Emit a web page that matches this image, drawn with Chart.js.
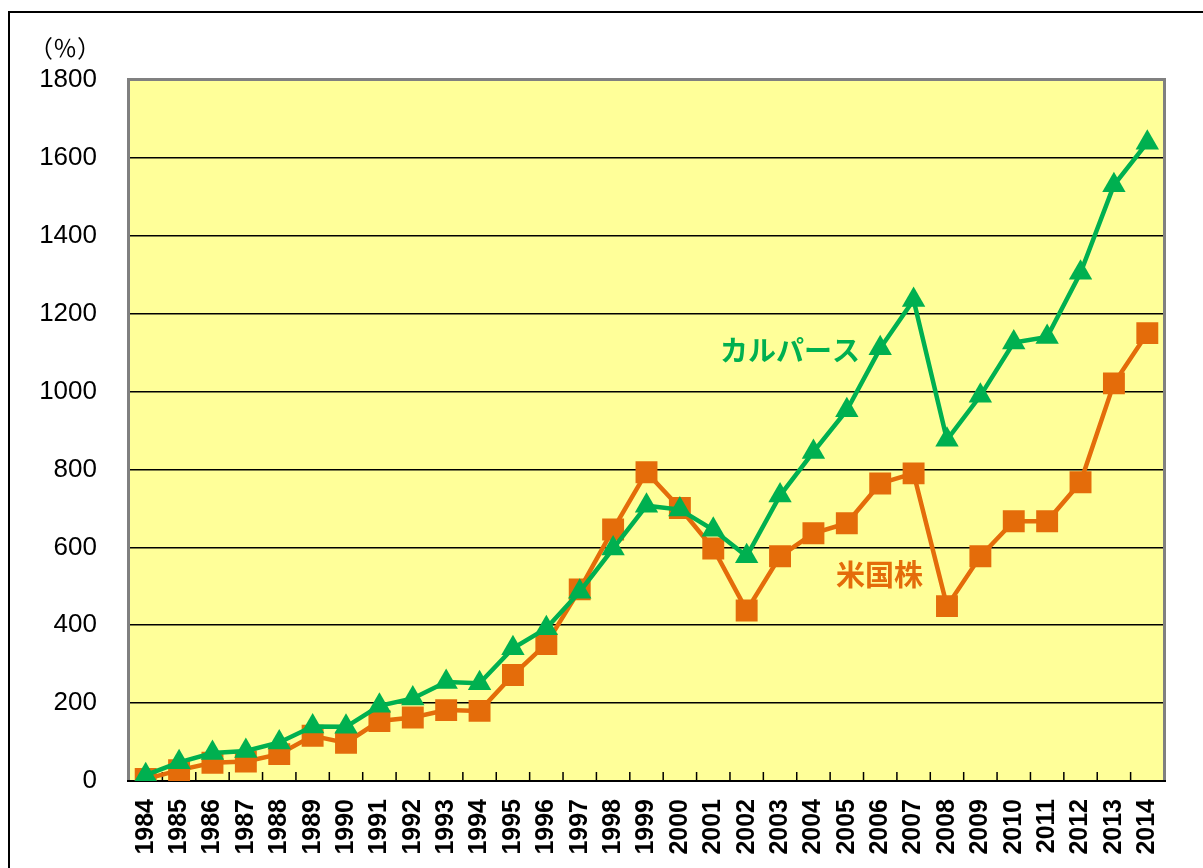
<!DOCTYPE html>
<html><head><meta charset="utf-8">
<script src="https://cdn.jsdelivr.net/npm/chart.js@4"></script>
<style>html,body{margin:0;padding:0;background:#fff;}canvas{display:block;}</style>
</head><body>
<canvas id="c" width="1203" height="868"></canvas>
<script>
const years = ['1984','1985','1986','1987','1988','1989','1990','1991','1992','1993','1994','1995','1996','1997','1998','1999','2000','2001','2002','2003','2004','2005','2006','2007','2008','2009','2010','2011','2012','2013','2014'];
const calpers = [15,48,72,77,99,140,139,193,212,254,251,341,392,486,597,707,697,645,577,733,845,952,1111,1235,876,989,1126,1140,1305,1530,1639];
const usStocks = [5,28,47,50,69,116,98,154,163,182,180,272,352,492,646,793,701,597,438,577,636,662,764,790,449,577,667,667,767,1021,1150];
const yTicks = {min:0, max:1800, step:200};
const seriesNames = ['カルパース','米国株'];
const GREEN = '#00B050', ORANGE = '#E46C0A';

const deco = {
  id:'deco',
  beforeDraw(chart){
    const {ctx, chartArea:a} = chart;
    ctx.save();
    ctx.fillStyle = '#FFFF99';
    ctx.fillRect(a.left, a.top, a.right-a.left, a.bottom-a.top);
    ctx.strokeStyle = '#000'; ctx.lineWidth = 2;
    ctx.beginPath(); ctx.moveTo(9, 868); ctx.lineTo(9, 12); ctx.lineTo(1203, 12); ctx.stroke();
    ctx.restore();
  },
  beforeDatasetsDraw(chart){
    const {ctx, chartArea:a, scales:{x}} = chart;
    ctx.save();
    ctx.strokeStyle = '#808080'; ctx.lineWidth = 3;
    ctx.beginPath();
    ctx.moveTo(a.left-0.5, a.bottom); ctx.lineTo(a.left-0.5, a.top-0.5); ctx.lineTo(a.right+0.5, a.top-0.5); ctx.lineTo(a.right+0.5, a.bottom);
    ctx.stroke();
    ctx.strokeStyle = '#000'; ctx.lineWidth = 2;
    ctx.beginPath(); ctx.moveTo(a.left-2, a.bottom); ctx.lineTo(a.right+2, a.bottom); ctx.stroke();
    ctx.lineWidth = 1.5;
    ctx.beginPath();
    for (let i = 1; i < years.length; i++) {
      const px = (x.getPixelForTick(i-1) + x.getPixelForTick(i)) / 2;
      ctx.moveTo(px, a.bottom); ctx.lineTo(px, a.bottom - 9);
    }
    ctx.stroke();
    ctx.restore();
  },
  afterDraw(chart){
    const {ctx} = chart;
    ctx.save();
    ctx.textBaseline = 'middle';
    ctx.fillStyle = '#000';
    ctx.font = '24px "Noto Sans CJK JP"';
    ctx.fillText('（％）', 29, 48);
    ctx.font = 'bold 28px "Noto Sans CJK JP"';
    ctx.fillStyle = GREEN;
    ctx.fillText(seriesNames[0], 720, 350);
    ctx.font = 'bold 29px "Noto Sans CJK JP"';
    ctx.fillStyle = ORANGE;
    ctx.fillText(seriesNames[1], 836, 575);
    ctx.restore();
  }
};

new Chart(document.getElementById('c'), {
  type:'line',
  data:{
    labels: years,
    datasets:[
      {label:seriesNames[0], data:calpers, borderColor:GREEN, backgroundColor:GREEN, borderWidth:4.5,
       pointStyle:'triangle', pointRadius:13.5, pointHoverRadius:13.5, pointBorderWidth:0, tension:0},
      {label:seriesNames[1], data:usStocks, borderColor:ORANGE, backgroundColor:ORANGE, borderWidth:4.5,
       pointStyle:'rect', pointRadius:15.5, pointHoverRadius:15.5, pointBorderWidth:0, tension:0}
    ]
  },
  options:{
    responsive:false, devicePixelRatio:1, animation:false,
    events:[],
    layout:{padding:{top:80, right:39, left:0, bottom:0}},
    plugins:{legend:{display:false}, tooltip:{enabled:false}},
    scales:{
      x:{
        offset:true,
        grid:{display:false, drawTicks:false},
        border:{display:false},
        ticks:{autoSkip:false, minRotation:90, maxRotation:90, padding:18, color:'#000',
               font:{family:'"Liberation Sans", Arial, sans-serif', size:25, weight:'bold'}},
        afterFit(s){ s.height = 87; }
      },
      y:{
        min:yTicks.min, max:yTicks.max,
        grid:{drawTicks:false, lineWidth:1.5,
              color:(c)=> (c.tick && (c.tick.value===yTicks.min || c.tick.value===yTicks.max)) ? 'rgba(0,0,0,0)' : '#000'},
        border:{display:false},
        ticks:{stepSize:yTicks.step, padding:32, color:'#000', callback:(v)=>String(v),
               font:{family:'"Liberation Sans", Arial, sans-serif', size:26}},
        afterFit(s){ s.width = 129; }
      }
    }
  },
  plugins:[deco]
});
</script>
</body></html>
